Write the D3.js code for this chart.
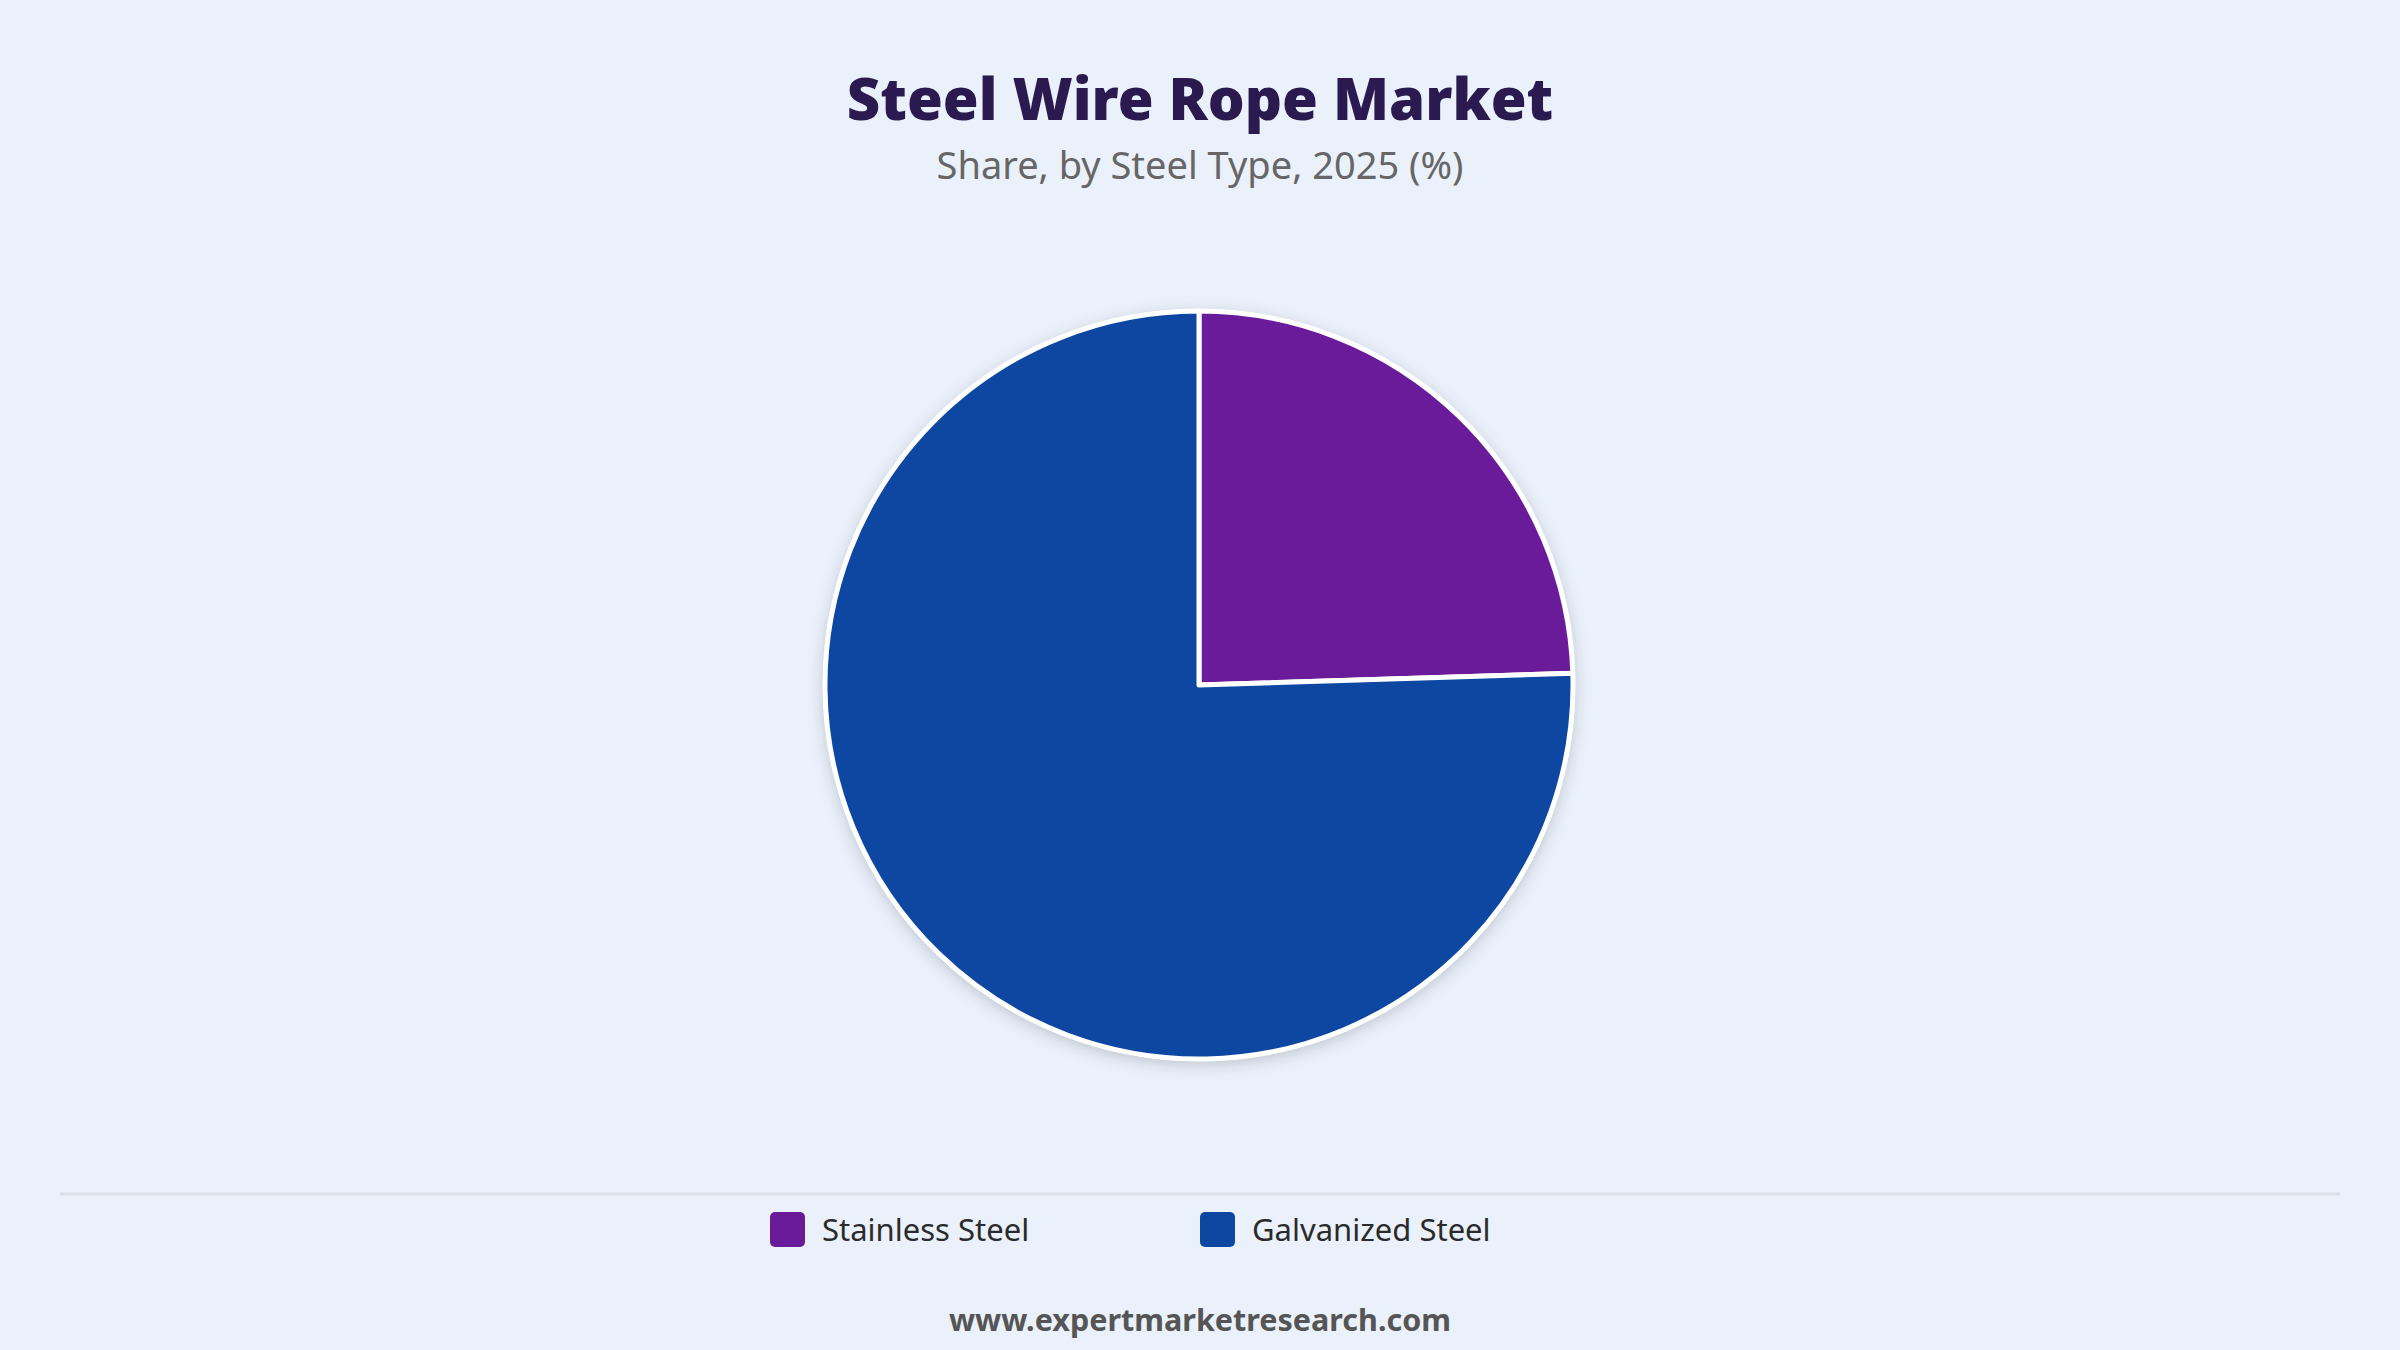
<!DOCTYPE html>
<html>
<head>
<meta charset="utf-8">
<script src="https://cdn.jsdelivr.net/npm/d3@7"></script>
<style>
  html, body { margin: 0; padding: 0; background: #eaf1fb; }
  svg { display: block; }
</style>
</head>
<body>
<svg id="chart" width="2400" height="1350"></svg>
<script>
const categories = ["Stainless Steel", "Galvanized Steel"];
const shares = [24.5, 75.5];
const colors = ["#6a1b9a", "#0d47a1"];
const title = "Steel Wire Rope Market";
const subtitle = "Share, by Steel Type, 2025 (%)";
const footer = "www.expertmarketresearch.com";

const W = 2400, H = 1350;
const svg = d3.select("#chart");
svg.append("rect").attr("width", W).attr("height", H).attr("fill", "#eaf1fb");

const defs = svg.append("defs");
const f = defs.append("filter").attr("id", "shadow").attr("x", "-20%").attr("y", "-20%").attr("width", "140%").attr("height", "140%");
f.append("feDropShadow").attr("dx", 0).attr("dy", 4).attr("stdDeviation", 8).attr("flood-color", "#000").attr("flood-opacity", 0.18);

svg.append("text").attr("x", W / 2).attr("y", 120).attr("text-anchor", "middle")
  .attr("font-family", "'Noto Sans', 'Open Sans', sans-serif").attr("font-weight", 900)
  .attr("font-size", 58).attr("fill", "#2b1a4f").text(title);

svg.append("text").attr("x", W / 2).attr("y", 179).attr("text-anchor", "middle")
  .attr("font-family", "'Noto Sans', 'Open Sans', sans-serif")
  .attr("font-size", 38).attr("fill", "#666666").text(subtitle);

const cx = 1199, cy = 685, R = 374;
const pie = d3.pie().sort(null).value(d => d.v);
const arc = d3.arc().innerRadius(0).outerRadius(R);
const data = categories.map((c, i) => ({ c, v: shares[i], col: colors[i] }));

const g = svg.append("g").attr("transform", `translate(${cx},${cy})`);
g.append("circle").attr("r", R + 2).attr("fill", "#ffffff").attr("filter", "url(#shadow)");
g.selectAll("path").data(pie(data)).join("path")
  .attr("d", arc).attr("fill", d => d.data.col)
  .attr("stroke", "#ffffff").attr("stroke-width", 5).attr("stroke-linejoin", "round");

svg.append("line").attr("x1", 60).attr("x2", 2340).attr("y1", 1194).attr("y2", 1194)
  .attr("stroke", "#dcdfe3").attr("stroke-width", 3);

const legendX = [770, 1200];
const lg = svg.append("g");
data.forEach((d, i) => {
  lg.append("rect").attr("x", legendX[i]).attr("y", 1212).attr("width", 35).attr("height", 35)
    .attr("rx", 5).attr("fill", d.col);
  lg.append("text").attr("x", legendX[i] + 52).attr("y", 1241)
    .attr("font-family", "'Noto Sans', 'Open Sans', sans-serif")
    .attr("font-size", 31).attr("fill", "#2b2b2b").text(d.c);
});

svg.append("text").attr("x", W / 2).attr("y", 1331).attr("text-anchor", "middle")
  .attr("font-family", "'Noto Sans', 'Open Sans', sans-serif").attr("font-weight", 700)
  .attr("font-size", 30.5).attr("fill", "#555555").text(footer);
</script>
</body>
</html>
